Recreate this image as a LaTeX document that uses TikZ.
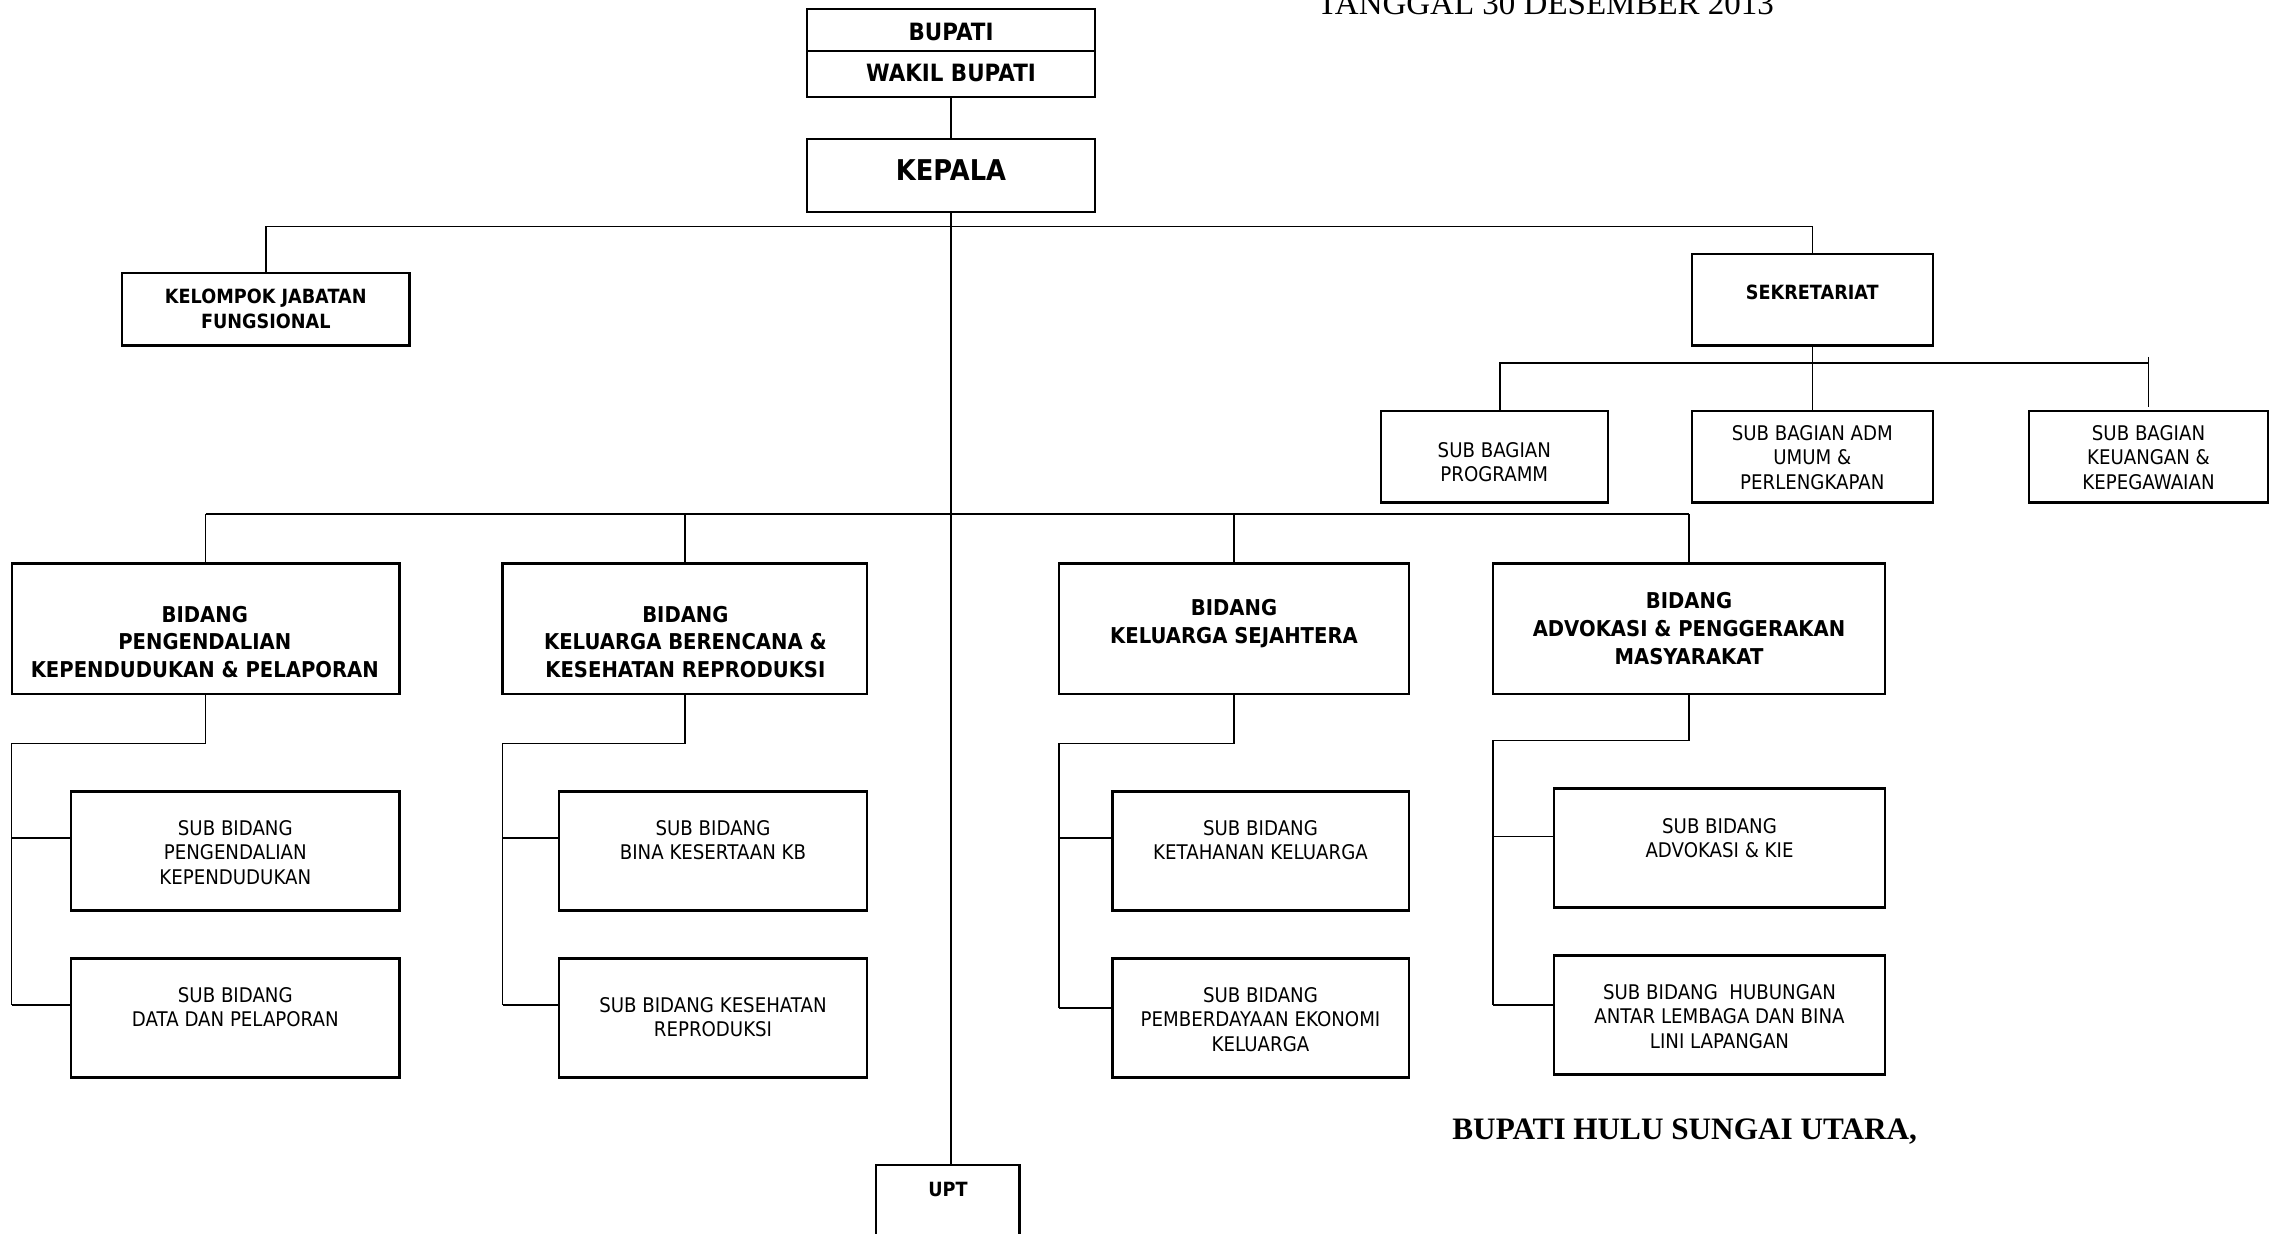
\documentclass[tikz,border=0pt]{standalone}
\usepackage{fontspec}
\newfontfamily\orgfont{DejaVu Sans}[FakeStretch=0.9]
\newfontfamily\serifx{Liberation Serif}
\begin{document}
\begin{tikzpicture}[x=0.5pt,y=-0.5pt,
  box/.style={draw, line width=1.1pt, inner sep=0pt, outer sep=0pt},
  ln/.style={line width=0.8pt},
  tbig/.style={font=\orgfont\bfseries\fontsize{14.3}{17}\selectfont, inner sep=0pt},
  tbup/.style={font=\orgfont\bfseries\fontsize{11.9}{14}\selectfont, inner sep=0pt},
  tbid/.style={font=\orgfont\bfseries\fontsize{10.9}{13.8}\selectfont, align=center, inner sep=0pt},
  tsm/.style={font=\orgfont\bfseries\fontsize{9.8}{12.5}\selectfont, align=center, inner sep=0pt},
  tsub/.style={font=\orgfont\fontsize{10.1}{12.3}\selectfont, align=center, inner sep=0pt}]
\useasboundingbox (0,0) rectangle (2277,1234);

% title fragments
\node[font=\serifx\fontsize{16.5}{18}\selectfont, anchor=base west, inner sep=0pt] (tgl) at (1317,15) {TANGGAL 30 DESEMBER 2013};
\node[font=\serifx\bfseries\fontsize{15.6}{18}\selectfont, anchor=base west, inner sep=0pt] (ttd) at (1452,1139) {BUPATI HULU SUNGAI UTARA,};

% boxes
\node[box, minimum width=144pt, minimum height=44pt] (bup) at (951,53) {};
\coordinate (dv) at (0,51);
\draw[line width=1.1pt] (bup.west |- dv) -- (bup.east |- dv);
\node[box, minimum width=144pt, minimum height=36.3pt] (kep) at (951,175.7) {};
\node[box, minimum width=143.75pt, minimum height=36.3pt] (kjf) at (265.8,309.3) {};
\node[box, minimum width=120.5pt, minimum height=45.8pt] (sek) at (1812.3,299.8) {};
\node[box, minimum width=113.3pt, minimum height=45.75pt] (sbp) at (1494.3,456.8) {};
\node[box, minimum width=120.5pt, minimum height=45.75pt] (adm) at (1812.3,456.8) {};
\node[box, minimum width=119.8pt, minimum height=45.75pt] (keu) at (2148.5,456.8) {};

\node[box, minimum width=193.9pt, minimum height=65.35pt] (b1) at (205.5,628.9) {};
\node[box, minimum width=182.25pt, minimum height=65.35pt] (b2) at (684.8,628.9) {};
\node[box, minimum width=174.95pt, minimum height=65.35pt] (b3) at (1233.7,628.9) {};
\node[box, minimum width=196.05pt, minimum height=65.35pt] (b4) at (1689,628.9) {};

\node[box, minimum width=164.1pt, minimum height=59.55pt] (s1a) at (235.3,851) {};
\node[box, minimum width=164.1pt, minimum height=59.55pt] (s1b) at (235.3,1018) {};
\node[box, minimum width=154pt, minimum height=59.55pt] (s2a) at (713,851) {};
\node[box, minimum width=154pt, minimum height=59.55pt] (s2b) at (713,1018) {};
\node[box, minimum width=148.1pt, minimum height=59.55pt] (s3a) at (1260.5,851) {};
\node[box, minimum width=148.1pt, minimum height=59.55pt] (s3b) at (1260.5,1018) {};
\node[box, minimum width=165.55pt, minimum height=59.55pt] (s4a) at (1719.5,848) {};
\node[box, minimum width=165.55pt, minimum height=59.55pt] (s4b) at (1719.5,1015) {};

\node[box, minimum width=71.9pt, minimum height=50pt] (upt) at (947.6,1214.7) {};

% texts
\node[tbup] (bupt) at (951,32) {BUPATI};
\node[tbup] (wakt) at (951,72.6) {WAKIL BUPATI};
\node[tbig] (kept) at (951,170) {KEPALA};
\node[tsm] (kjft) at (265.8,308.5) {KELOMPOK JABATAN\\FUNGSIONAL};
\node[tsm] (sekt) at (1812.3,292) {SEKRETARIAT};
\node[tsub] (sbpt) at (1494.3,462) {SUB BAGIAN\\PROGRAMM};
\node[tsub] (admt) at (1812.3,457.4) {SUB BAGIAN ADM\\UMUM \&\\PERLENGKAPAN};
\node[tsub] (keut) at (2148.5,457.4) {SUB BAGIAN\\KEUANGAN \&\\KEPEGAWAIAN};

\node[tbid] (b1t) at (204.8,641.8) {BIDANG\\PENGENDALIAN\\KEPENDUDUKAN \& PELAPORAN};
\node[tbid] (b2t) at (685.4,641.8) {BIDANG\\KELUARGA BERENCANA \&\\KESEHATAN REPRODUKSI};
\node[tbid] (b3t) at (1234,623.8) {BIDANG\\KELUARGA SEJAHTERA};
\node[tbid] (b4t) at (1689,628.5) {BIDANG\\ADVOKASI \& PENGGERAKAN\\MASYARAKAT};

\node[tsub] (s1at) at (235.3,852.5) {SUB BIDANG\\PENGENDALIAN\\KEPENDUDUKAN};
\node[tsub] (s1bt) at (235.3,1007.3) {SUB BIDANG\\DATA DAN PELAPORAN};
\node[tsub] (s2at) at (713,840.2) {SUB BIDANG\\BINA KESERTAAN KB};
\node[tsub] (s2bt) at (713,1017.3) {SUB BIDANG KESEHATAN\\REPRODUKSI};
\node[tsub] (s3at) at (1260.5,840.2) {SUB BIDANG\\KETAHANAN KELUARGA};
\node[tsub] (s3bt) at (1260.5,1019.5) {SUB BIDANG\\PEMBERDAYAAN EKONOMI\\KELUARGA};
\node[tsub] (s4at) at (1719.5,838) {SUB BIDANG\\ADVOKASI \& KIE};
\node[tsub] (s4bt) at (1719.5,1016.5) {SUB BIDANG\ \ HUBUNGAN\\ANTAR LEMBAGA DAN BINA\\LINI LAPANGAN};
\node[tsm] (uptt) at (948,1189) {UPT};

% connector levels
\coordinate (h1) at (0,226.5);
\coordinate (h2) at (0,363);
\coordinate (h2k) at (0,357);
\coordinate (h3) at (0,514);
\coordinate (e1) at (0,743.5);
\coordinate (e4) at (0,740.6);
\coordinate (ra) at (0,838);
\coordinate (rb) at (0,1005);
\coordinate (r3b) at (0,1008);
\coordinate (r4a) at (0,836.5);
\coordinate (sbpx) at (1500,0);

% connectors
\draw[ln] (bup.south) -- (kep.north);
\draw[ln] (kep.south) -- (kep.south |- upt.north);
\draw[ln] (kjf.north) -- (kjf.north |- h1) -- (sek.north |- h1) -- (sek.north);
\draw[ln] (sek.south) -- (sek.south |- h2);
\draw[ln] (sbpx |- sbp.north) -- (sbpx |- h2) -- (keu.north |- h2);
\draw[ln] (adm.north) -- (adm.north |- h2);
\draw[ln] (keu.north |- h2k) -- ([yshift=2.2pt]keu.north);

\draw[ln] (b1.north |- h3) -- (b4.north |- h3);
\foreach \b in {b1,b2,b3,b4} {\draw[ln] (\b.north |- h3) -- (\b.north);}

\draw[ln] (b1.south) -- (b1.south |- e1) -- (b1.west |- e1) -- (b1.west |- rb);
\draw[ln] (b1.west |- ra) -- (s1a.west |- ra);
\draw[ln] (b1.west |- rb) -- (s1b.west |- rb);

\draw[ln] (b2.south) -- (b2.south |- e1) -- (b2.west |- e1) -- (b2.west |- rb);
\draw[ln] (b2.west |- ra) -- (s2a.west |- ra);
\draw[ln] (b2.west |- rb) -- (s2b.west |- rb);

\draw[ln] (b3.south) -- (b3.south |- e1) -- (b3.west |- e1) -- (b3.west |- r3b);
\draw[ln] (b3.west |- ra) -- (s3a.west |- ra);
\draw[ln] (b3.west |- r3b) -- (s3b.west |- r3b);

\draw[ln] (b4.south) -- (b4.south |- e4) -- (b4.west |- e4) -- (b4.west |- rb);
\draw[ln] (b4.west |- r4a) -- (s4a.west |- r4a);
\draw[ln] (b4.west |- rb) -- (s4b.west |- rb);
\end{tikzpicture}
\end{document}
